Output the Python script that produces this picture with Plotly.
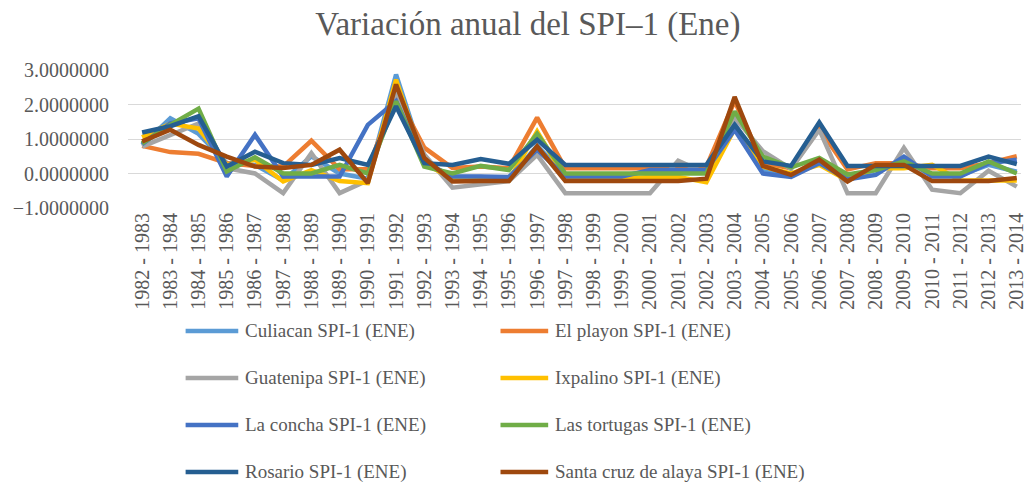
import plotly.graph_objects as go

# Hydrological years (January SPI-1)
years = ["1982 - 1983", "1983 - 1984", "1984 - 1985", "1985 - 1986", "1986 - 1987",
         "1987 - 1988", "1988 - 1989", "1989 - 1990", "1990 - 1991", "1991 - 1992",
         "1992 - 1993", "1993 - 1994", "1994 - 1995", "1995 - 1996", "1996 - 1997",
         "1997 - 1998", "1998 - 1999", "1999 - 2000", "2000 - 2001", "2001 - 2002",
         "2002 - 2003", "2003 - 2004", "2004 - 2005", "2005 - 2006", "2006 - 2007",
         "2007 - 2008", "2008 - 2009", "2009 - 2010", "2010 - 2011", "2011 - 2012",
         "2012 - 2013", "2013 - 2014"]

culiacan = [0.82, 1.60, 1.15, 0.30, 0.25, -0.20, 0.50, 0.00, -0.15, 2.87, 0.35, -0.10,
            -0.10, -0.15, 0.80, -0.05, -0.05, -0.05, 0.05, 0.05, 0.05, 1.45, 0.10, -0.05,
            0.35, -0.10, 0.10, 0.35, -0.05, -0.05, 0.25, 0.05]
el_playon = [0.80, 0.62, 0.57, 0.30, 0.22, 0.20, 0.95, 0.12, 0.12, 2.30, 0.75, 0.16,
             0.20, 0.15, 1.62, 0.15, 0.15, 0.15, 0.15, 0.15, 0.20, 2.10, 0.30, 0.15,
             1.30, 0.12, 0.30, 0.30, 0.15, 0.15, 0.30, 0.50]
guatenipa = [0.78, 1.12, 1.45, 0.15, 0.00, -0.57, 0.59, -0.57, -0.20, 2.40, 0.55, -0.41,
             -0.31, -0.22, 0.54, -0.57, -0.57, -0.57, -0.57, 0.37, 0.00, 1.62, 0.65, 0.13,
             1.27, -0.57, -0.57, 0.74, -0.47, -0.57, 0.08, -0.38]
ixpalino = [1.05, 1.45, 1.30, 0.25, 0.40, -0.23, 0.10, -0.22, -0.28, 2.72, 0.30, -0.15,
            -0.20, -0.20, 1.22, -0.15, -0.15, -0.15, -0.10, -0.10, -0.25, 1.30, 0.20, 0.00,
            0.25, -0.20, 0.15, 0.15, 0.25, -0.20, -0.20, -0.20]
la_concha = [0.85, 1.45, 1.60, -0.09, 1.12, -0.09, -0.09, -0.09, 1.41, 2.10, 0.30, -0.09,
             -0.09, -0.10, 0.69, -0.09, -0.09, -0.09, 0.10, 0.10, 0.10, 1.27, 0.00, -0.10,
             0.30, -0.17, -0.04, 0.49, -0.09, -0.09, 0.30, 0.40]
las_tortugas = [0.87, 1.41, 1.88, 0.06, 0.47, 0.00, 0.00, 0.25, 0.00, 2.09, 0.20, 0.00,
                0.22, 0.10, 1.15, 0.00, 0.00, 0.00, 0.00, 0.00, 0.00, 1.80, 0.49, 0.18,
                0.45, -0.03, 0.10, 0.35, 0.00, 0.00, 0.35, 0.00]
rosario = [1.19, 1.37, 1.66, 0.20, 0.63, 0.30, 0.25, 0.45, 0.25, 1.95, 0.30, 0.25,
           0.42, 0.28, 0.98, 0.25, 0.25, 0.25, 0.25, 0.25, 0.25, 1.41, 0.35, 0.22,
           1.48, 0.22, 0.22, 0.22, 0.22, 0.22, 0.49, 0.27]
santa_cruz = [0.93, 1.27, 0.83, 0.49, 0.20, 0.16, 0.25, 0.69, -0.28, 2.58, 0.45, -0.23,
              -0.22, -0.22, 0.79, -0.22, -0.22, -0.22, -0.22, -0.22, -0.15, 2.22, 0.22, -0.04,
              0.40, -0.23, 0.25, 0.25, -0.22, -0.22, -0.22, -0.13]

series = [
    ("Culiacan SPI-1 (ENE)", culiacan, "#5B9BD5"),
    ("El playon SPI-1 (ENE)", el_playon, "#ED7D31"),
    ("Guatenipa SPI-1 (ENE)", guatenipa, "#A5A5A5"),
    ("Ixpalino SPI-1 (ENE)", ixpalino, "#FFC000"),
    ("La concha SPI-1 (ENE)", la_concha, "#4472C4"),
    ("Las tortugas SPI-1 (ENE)", las_tortugas, "#70AD47"),
    ("Rosario SPI-1 (ENE)", rosario, "#255E91"),
    ("Santa cruz de alaya SPI-1 (ENE)", santa_cruz, "#9E480E"),
]

FONT = "Liberation Serif"
TEXT = "#595959"
W, H = 1027, 486
L, T, B = 128, 70, 208  # plot area edges in pixels


def px_x(x):
    return (x - L) / (W - L)


def px_y(y):
    return (B - y) / (B - T)


fig = go.Figure()
for name, vals, color in series:
    fig.add_trace(go.Scatter(x=years, y=vals, name=name, mode="lines",
                             line=dict(color=color, width=4.5)))

# Two-column legend drawn beneath the axis labels
row_y = [331, 378, 425, 472]
col_line = [(186, 239), (503, 551)]
col_text = [244, 556]
for k, (name, _, color) in enumerate(series):
    r, c = divmod(k, 2)
    yp = px_y(row_y[r])
    x0, x1 = col_line[c]
    fig.add_shape(type="line", xref="paper", yref="paper",
                  x0=px_x(x0), x1=px_x(x1), y0=yp, y1=yp,
                  line=dict(color=color, width=4.5))
    fig.add_annotation(xref="paper", yref="paper", x=px_x(col_text[c]), y=yp,
                       text=name, showarrow=False, xanchor="left", yanchor="middle",
                       font=dict(family=FONT, size=19, color=TEXT))

fig.update_layout(
    width=W, height=H,
    margin=dict(l=L, r=0, t=T, b=H - B),
    paper_bgcolor="white", plot_bgcolor="white",
    showlegend=False,
    title=dict(text="Variación anual del SPI–1 (Ene)", x=0.514, xanchor="center",
               y=1 - 23 / H, yanchor="middle",
               font=dict(family=FONT, size=33, color=TEXT)),
    font=dict(family=FONT, color=TEXT),
)
fig.update_xaxes(range=[-0.5, 31.15], tickangle=-90, showgrid=False, showline=False,
                 ticks="", tickfont=dict(family=FONT, size=20, color=TEXT), fixedrange=True)
fig.update_yaxes(range=[-1, 3], dtick=1, tickformat=".7f", showgrid=True, gridcolor="#D9D9D9",
                 gridwidth=1, zeroline=False, showline=False, ticks="", ticklabelstandoff=18,
                 tickfont=dict(family=FONT, size=20, color=TEXT), fixedrange=True)

fig.write_html("out.html")
